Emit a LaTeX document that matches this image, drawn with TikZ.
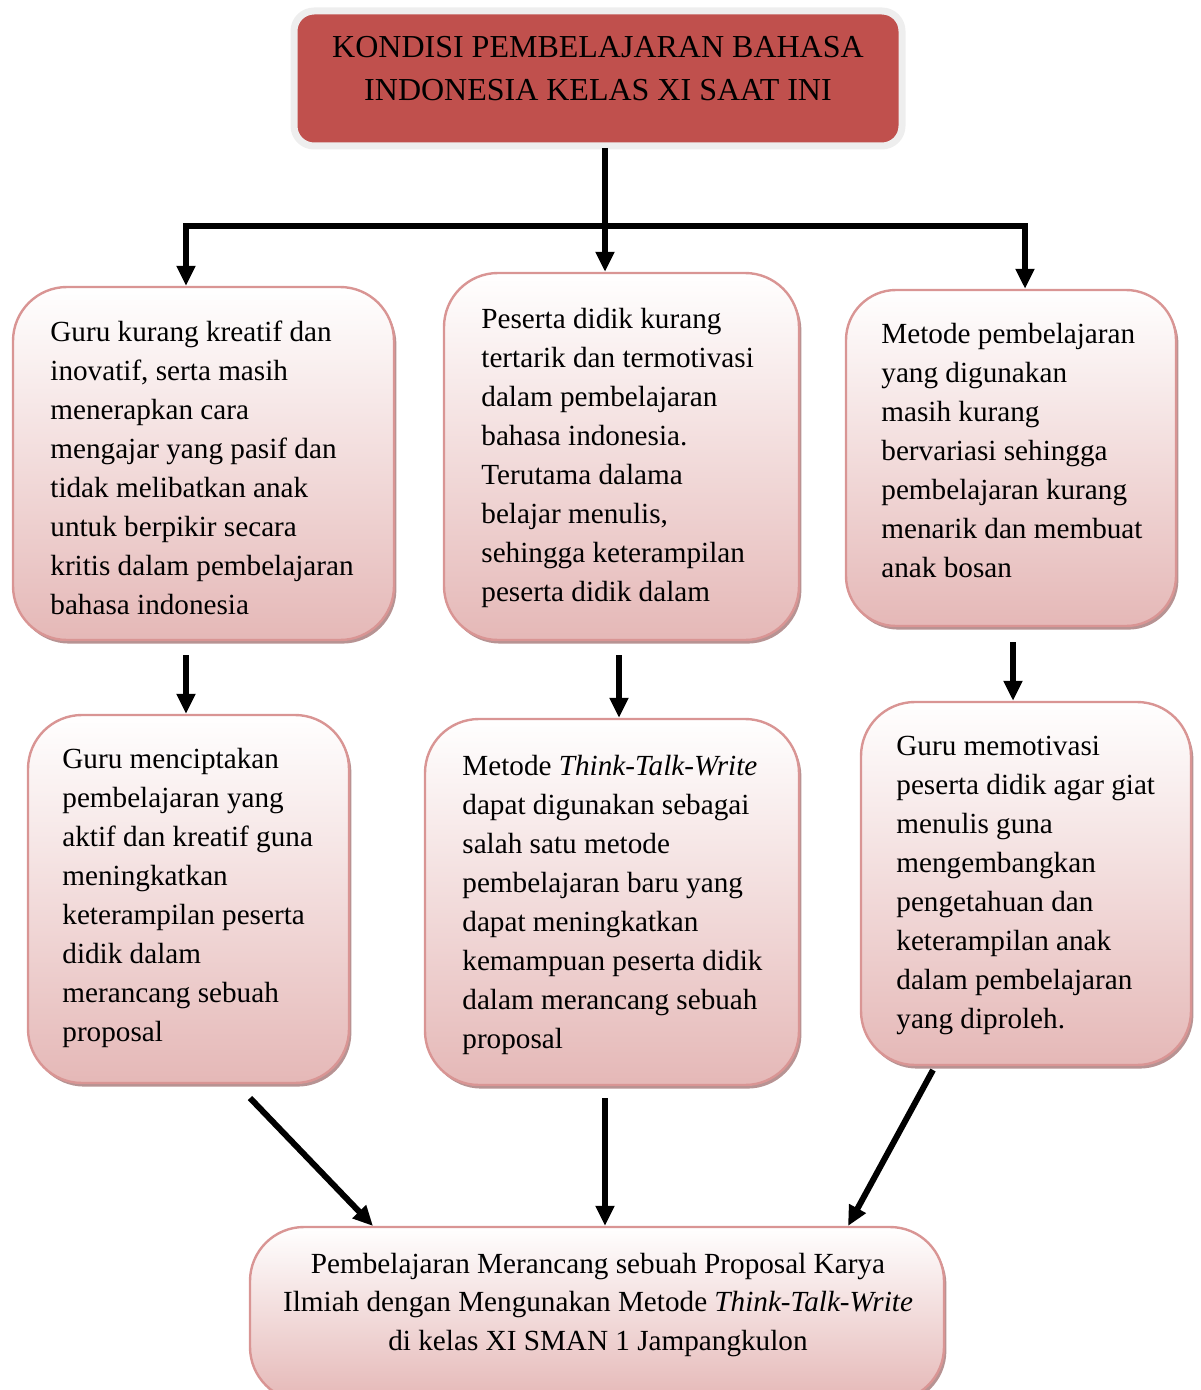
\documentclass[tikz,border=0pt]{standalone}
\usepackage{fontspec}
\setmainfont{Liberation Serif}
\usetikzlibrary{arrows.meta,shadows}
\definecolor{tred}{RGB}{192,80,77}
\definecolor{tedge}{RGB}{238,238,238}
\definecolor{bedge}{RGB}{217,149,148}
\definecolor{bpink}{RGB}{229,184,183}
\definecolor{bshadow}{RGB}{175,135,135}
\tikzset{
  boxshape/.style={draw=bedge, line width=1.2pt, rounded corners=27pt,
    top color=white, bottom color=bpink,
    drop shadow={shadow xshift=1.2pt, shadow yshift=-1.8pt, fill=bshadow, opacity=0.9},
    inner sep=0pt},
  boxtext/.style={anchor=north west, inner sep=0pt, align=left,
    font=\fontsize{14.6}{19.5}\selectfont},
  conn/.style={line width=3pt},
  arr/.style={conn, -{Triangle[length=10pt,width=9pt]}},
}
\begin{document}
\begin{tikzpicture}[x=0.5pt,y=-0.5pt]
\useasboundingbox (0,0) rectangle (1200,1390);
\clip (0,0) rectangle (1200,1390);

% title
\node[draw=tedge, line width=3.5pt, fill=tred, rounded corners=10pt,
      minimum width=304pt, minimum height=67.5pt, inner sep=0pt] (title) at (598,78.5) {};
\node[anchor=north, inner sep=0pt, align=center, font=\fontsize{16}{21.5}\selectfont]
  (tt) at (598,26.9) {\strut KONDISI PEMBELAJARAN BAHASA\\INDONESIA KELAS XI SAAT INI};

% boxes
\node[boxshape, minimum width=190.5pt, minimum height=176.5pt] (b1) at (203.5,463.5) {};
\node[boxshape, minimum width=177.5pt, minimum height=183.5pt] (b2) at (621.5,456.5) {};
\node[boxshape, minimum width=165pt, minimum height=168pt, rounded corners=25pt] (b3) at (1011,458) {};
\node[boxshape, minimum width=160.5pt, minimum height=184pt] (b4) at (188.5,899) {};
\node[boxshape, minimum width=187pt, minimum height=183pt] (b5) at (612,902) {};
\node[boxshape, minimum width=165pt, minimum height=181.5pt] (b6) at (1026,883.5) {};
\node[boxshape, minimum width=347pt, minimum height=87pt] (bot) at (597,1314) {};

% texts
\node[boxtext] (t1) at (50,313.7) {\strut Guru kurang kreatif dan\\inovatif, serta masih\\menerapkan cara\\mengajar yang pasif dan\\tidak melibatkan anak\\untuk berpikir secara\\kritis dalam pembelajaran\\bahasa indonesia};
\node[boxtext] (t2) at (481,300.7) {\strut Peserta didik kurang\\tertarik dan termotivasi\\dalam pembelajaran\\bahasa indonesia.\\Terutama dalama\\belajar menulis,\\sehingga keterampilan\\peserta didik dalam};
\node[boxtext] (t3) at (881,315.7) {\strut Metode pembelajaran\\yang digunakan\\masih kurang\\bervariasi sehingga\\pembelajaran kurang\\menarik dan membuat\\anak bosan};
\node[boxtext] (t4) at (62,740.7) {\strut Guru menciptakan\\pembelajaran yang\\aktif dan kreatif guna\\meningkatkan\\keterampilan peserta\\didik dalam\\merancang sebuah\\proposal};
\node[boxtext] (t5) at (462,747.7) {\strut Metode \textit{Think-Talk-Write}\\dapat digunakan sebagai\\salah satu metode\\pembelajaran baru yang\\dapat meningkatkan\\kemampuan peserta didik\\dalam merancang sebuah\\proposal};
\node[boxtext] (t6) at (896,727.7) {\strut Guru memotivasi\\peserta didik agar giat\\menulis guna\\mengembangkan\\pengetahuan dan\\keterampilan anak\\dalam pembelajaran\\yang diproleh.};
\node[anchor=north, inner sep=0pt, align=center, font=\fontsize{14.6}{19.25}\selectfont]
  (tb) at (598,1245.7) {\strut Pembelajaran Merancang sebuah Proposal Karya\\Ilmiah dengan Mengunakan Metode \textit{Think-Talk-Write}\\di kelas XI SMAN 1 Jampangkulon};

% connectors
\coordinate (t0) at (605,148);
\coordinate (jL) at (186,226);
\coordinate (jR) at (1025,226);
\draw[conn] ([xshift=-1.5pt]jL) -- ([xshift=1.5pt]jR);
\draw[arr] (t0) -- (t0 |- b2.north);
\draw[arr] (jL) -- (jL |- b1.north);
\draw[arr] (jR) -- (jR |- b3.north);

\coordinate (s1) at (186,655);
\coordinate (s2) at (619,655);
\coordinate (s3) at (1013,642);
\draw[arr] (s1) -- (s1 |- b4.north);
\draw[arr] (s2) -- (s2 |- b5.north);
\draw[arr] (s3) -- (s3 |- b6.north);

\coordinate (s4) at (250,1098);
\coordinate (s5) at (605,1098);
\coordinate (s6) at (933,1070);
\coordinate (e4) at (373,1226);
\coordinate (e6) at (848,1226);
\draw[arr] (s4) -- (e4);
\draw[arr] (s5) -- (s5 |- bot.north);
\draw[arr] (s6) -- (e6);
\end{tikzpicture}
\end{document}
